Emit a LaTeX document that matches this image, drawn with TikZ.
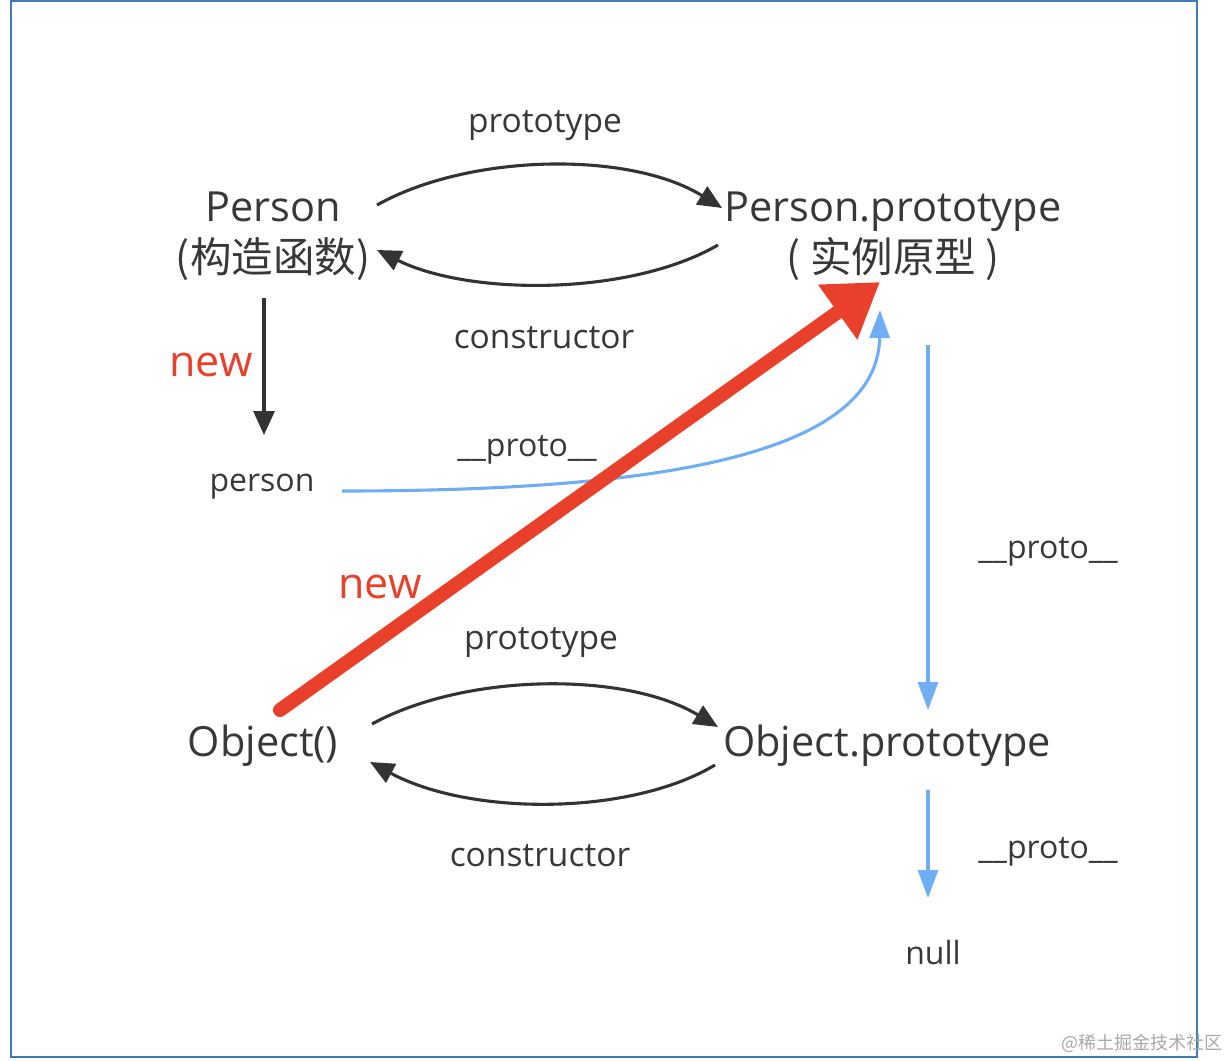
\documentclass[tikz,border=0pt]{standalone}
\usepackage{fontspec}
\setmainfont{Open Sans}
\newfontfamily\cjk{Noto Sans CJK SC}
\usetikzlibrary{arrows.meta}
\definecolor{txt}{HTML}{383838}
\definecolor{arrblack}{HTML}{333333}
\definecolor{arrblue}{HTML}{6FAEF5}
\definecolor{arrred}{HTML}{E8402A}
\definecolor{frame}{HTML}{3F7BB6}
\definecolor{wm}{HTML}{A8A8A8}
\begin{document}
\begin{tikzpicture}[x=1pt,y=-1pt,
  big/.style={text=txt,inner sep=0pt,align=center,font=\fontsize{41.5}{51}\selectfont},
  lbl/.style={text=txt,inner sep=0pt,font=\fontsize{32}{38}\selectfont},
  edgelbl/.style={text=txt,inner sep=0pt,font=\fontsize{33.5}{40}\selectfont},
  rednew/.style={text=arrred,inner sep=0pt,font=\fontsize{43}{50}\selectfont},
  blk/.style={draw=arrblack,line width=3.1pt,-{Triangle[length=24pt,width=21pt]}},
  blu/.style={draw=arrblue,line width=3.1pt,-{Triangle[length=28pt,width=20pt]}},
  redarr/.style={draw=arrred,line width=14pt,line cap=round,-{Triangle[length=52pt,width=64pt]}}
]
\useasboundingbox (0,0) rectangle (1228,1060);
\draw[frame,line width=2.5pt] (11,1) rectangle (1197,1057);

% main nodes
\node[big] (person) at (273,236) {Person\\{\cjk(构造函数)}};
\node[big] (pp) at (893,236) {Person.prototype\\{\cjk( 实例原型 )}};
\node[lbl] (inst) at (262,487) {person};
\node[big] (obj) at (263,746) {Object()};
\node[big] (op) at (887,746) {Object.prototype};
\node[lbl] (null) at (933,952) {null};

% labels
\node[edgelbl] (l1) at (545,125) {prototype};
\node[edgelbl] (l2) at (544,338) {constructor};
\node[lbl] (l3) at (527,450) {\_\_proto\_\_};
\node[lbl] (l4) at (1048,552) {\_\_proto\_\_};
\node[edgelbl] (l5) at (541,642) {prototype};
\node[edgelbl] (l6) at (540,856) {constructor};
\node[lbl] (l7) at (1048,852) {\_\_proto\_\_};
\node[rednew] (n1) at (211,365) {new};
\node[rednew] (n2) at (380,587) {new};

% Person <-> Person.prototype
\draw[blk] ([shift={(104,-31)}]person.center) .. controls (470,153) and (630,151) .. ([shift={(-171,-28)}]pp.center);
\draw[blk] ([shift={(-175,9)}]pp.center) .. controls (630,296) and (470,296) .. ([shift={(104,14)}]person.center);
% new
\draw[blk] ([shift={(-9,62)}]person.center) -- ([shift={(2,-52)}]inst.center);
% person -> Person.prototype
\draw[blu] ([shift={(80,4)}]inst.center) .. controls (640,491) and (878,460) .. ([shift={(-13,74)}]pp.center);
% Person.prototype -> Object.prototype
\draw[blu] ([shift={(35,109)}]pp.center) -- ([shift={(41,-36)}]op.center);
% Object <-> Object.prototype
\draw[blk] ([shift={(109,-22)}]obj.center) .. controls (465,673) and (625,671) .. ([shift={(-169,-19)}]op.center);
\draw[blk] ([shift={(-172,19)}]op.center) .. controls (630,816) and (470,816) .. ([shift={(107,16)}]obj.center);
% Object.prototype -> null
\draw[blu] ([shift={(41,44)}]op.center) -- ([shift={(-5,-54)}]null.center);
% red arrow
\draw[redarr] ([shift={(17,-36)}]obj.center) -- ([shift={(-13,46)}]pp.center);

% watermark
\node[anchor=east,text=wm,inner sep=0pt,font=\cjk\fontsize{18}{20}\selectfont] (wmk) at (1223,1043) {@稀土掘金技术社区};
\end{tikzpicture}
\end{document}
